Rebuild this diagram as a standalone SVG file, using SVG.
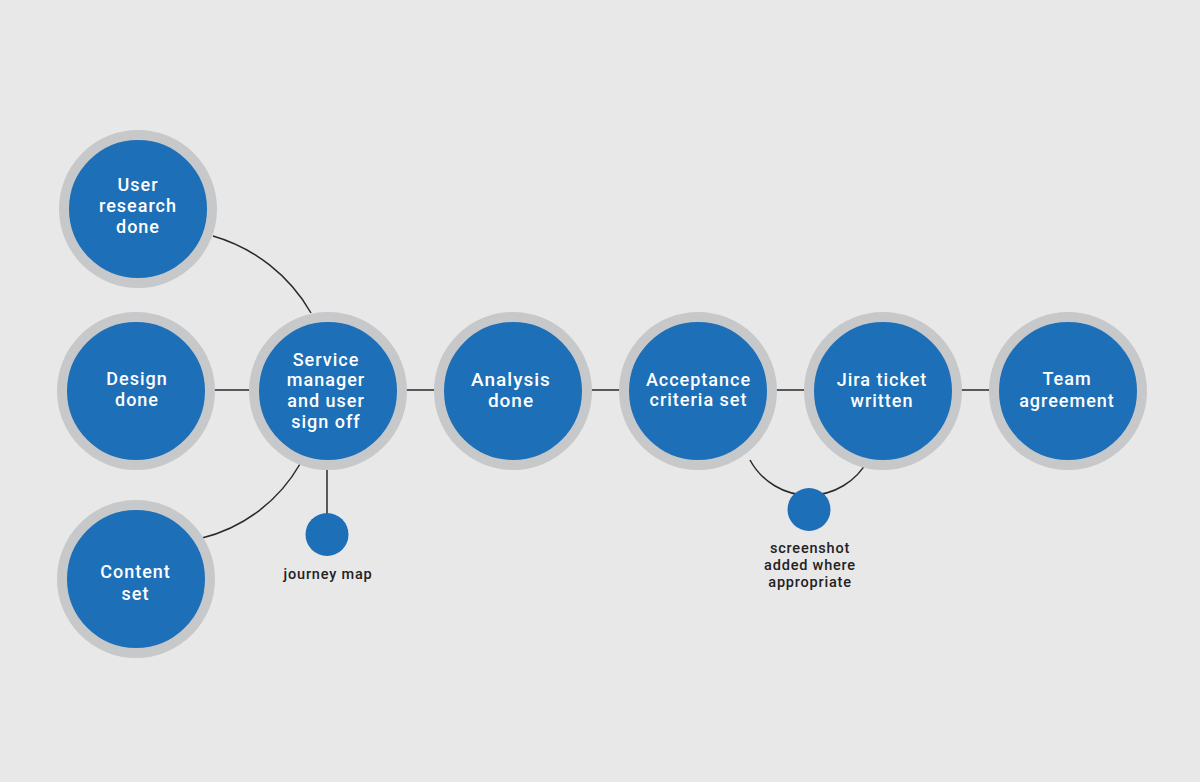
<svg xmlns="http://www.w3.org/2000/svg" width="1200" height="782" viewBox="0 0 1200 782">
  <style>
    .ring { fill: #1d6fb8; stroke: #c7c8ca; stroke-width: 10; }
    .dot { fill: #1d6fb8; }
    .lbl { font-family: Roboto, "Liberation Sans", Arial, sans-serif; font-weight: 500; font-size: 18px; fill: #ffffff; text-anchor: middle; letter-spacing: 1px; }
    .big { font-size: 19px; }
    .cap { font-family: Roboto, "Liberation Sans", Arial, sans-serif; font-weight: 500; font-size: 14.5px; fill: #222222; text-anchor: middle; letter-spacing: 0.8px; }
    .conn { fill: none; stroke: #2a2a2a; stroke-width: 1.5; }
  </style>
  <rect width="1200" height="782" fill="#e8e8e8"/>

  <g id="connectors">
    <line class="conn" x1="210" y1="390" x2="254" y2="390"/>
    <line class="conn" x1="402" y1="390" x2="439" y2="390"/>
    <line class="conn" x1="587" y1="390" x2="624" y2="390"/>
    <line class="conn" x1="772" y1="390" x2="809" y2="390"/>
    <line class="conn" x1="957" y1="390" x2="994" y2="390"/>
    <path class="conn" d="M213,236 A166,166 0 0 1 311,313"/>
    <path class="conn" d="M300,464 A156,156 0 0 1 202,538"/>
    <line class="conn" x1="327" y1="466" x2="327" y2="520"/>
    <path class="conn" d="M750,460 A67,67 0 0 0 868,460"/>
  </g>

  <g id="node-user-research">
    <circle class="ring" cx="138" cy="209" r="74"/>
    <text class="lbl" x="138" y="190.5">User</text>
    <text class="lbl" x="138" y="211.8">research</text>
    <text class="lbl" x="138" y="233">done</text>
  </g>

  <g id="node-design">
    <circle class="ring" cx="136" cy="391" r="74"/>
    <text class="lbl" x="137" y="385">Design</text>
    <text class="lbl" x="137" y="406">done</text>
  </g>

  <g id="node-content">
    <circle class="ring" cx="136" cy="579" r="74"/>
    <text class="lbl" x="135.5" y="578.3">Content</text>
    <text class="lbl" x="135.5" y="600">set</text>
  </g>

  <g id="node-service">
    <circle class="ring" cx="328" cy="391" r="74"/>
    <text class="lbl" x="326" y="365.5">Service</text>
    <text class="lbl" x="326" y="386.2">manager</text>
    <text class="lbl" x="326" y="406.9">and user</text>
    <text class="lbl" x="326" y="427.5">sign off</text>
  </g>

  <g id="node-journey-map">
    <circle class="dot" cx="327" cy="534.5" r="21.5"/>
    <text class="cap" x="328" y="579">journey map</text>
  </g>

  <g id="node-analysis">
    <circle class="ring" cx="513" cy="391" r="74"/>
    <text class="lbl big" x="511" y="385.7">Analysis</text>
    <text class="lbl big" x="511" y="406.7">done</text>
  </g>

  <g id="node-acceptance">
    <circle class="ring" cx="698" cy="391" r="74"/>
    <text class="lbl" x="698.5" y="385.5">Acceptance</text>
    <text class="lbl" x="698.5" y="405.7">criteria set</text>
  </g>

  <g id="node-jira">
    <circle class="ring" cx="883" cy="391" r="74"/>
    <text class="lbl" x="882" y="386">Jira ticket</text>
    <text class="lbl" x="882" y="406.7">written</text>
  </g>

  <g id="node-screenshot">
    <circle class="dot" cx="809" cy="509.5" r="21.5"/>
    <text class="cap" x="810" y="553">screenshot</text>
    <text class="cap" x="810" y="570">added where</text>
    <text class="cap" x="810" y="587">appropriate</text>
  </g>

  <g id="node-team">
    <circle class="ring" cx="1068" cy="391" r="74"/>
    <text class="lbl" x="1067" y="385">Team</text>
    <text class="lbl" x="1067" y="407">agreement</text>
  </g>
</svg>
